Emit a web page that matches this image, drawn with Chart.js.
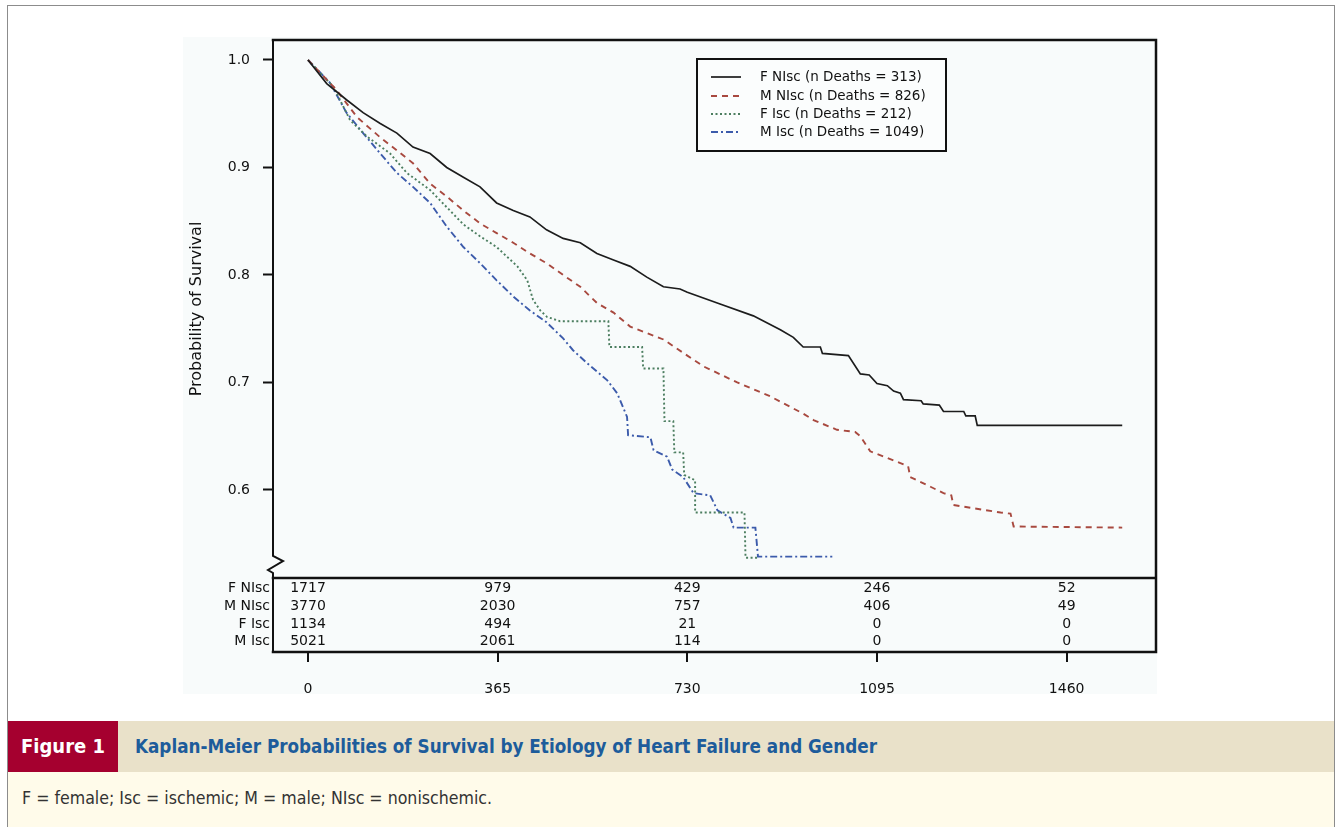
<!DOCTYPE html>
<html>
<head>
<meta charset="utf-8">
<script src="https://cdn.jsdelivr.net/npm/chart.js@4.4.1/dist/chart.umd.min.js"></script>
<style>
  body { margin: 0; background: #fff; width: 1339px; height: 827px; overflow: hidden; position: relative; }
  #frame { position: absolute; left: 7px; top: 5px; width: 1328px; height: 840px; border: 1px solid #8c8c8c; box-sizing: border-box; }
  #panel { position: absolute; left: 183px; top: 37px; width: 974px; height: 657px; background: #f8fbfb; }
  #chart { position: absolute; left: 0; top: 0; }
  #band { position: absolute; left: 8px; top: 721px; width: 1326px; height: 51px; background: #e9e1c9; }
  #fig { position: absolute; left: 0; top: 0; width: 110px; height: 51px; background: #a5002f; color: #fff;
         font: bold 20px "Liberation Sans Narrow", "DejaVu Sans Condensed", sans-serif; line-height: 51px; text-align: center; }
  #title { position: absolute; left: 127px; top: 0; color: #1d5c9b;
           font: bold 18.7px "Liberation Sans Narrow", "DejaVu Sans Condensed", sans-serif; line-height: 51px; white-space: nowrap; }
  #note { position: absolute; left: 8px; top: 772px; width: 1326px; height: 60px; background: #fffbea; }
  #note span { position: absolute; left: 14px; top: 16px; color: #333; white-space: nowrap;
               font: 17.6px "Liberation Sans Narrow", "DejaVu Sans Condensed", sans-serif; }
</style>
</head>
<body>
<div id="frame"></div>
<div id="panel"></div>
<canvas id="chart" width="1339" height="720"></canvas>
<div id="band"><div id="fig">Figure 1</div><div id="title">Kaplan-Meier Probabilities of Survival by Etiology of Heart Failure and Gender</div></div>
<div id="note"><span>F = female; Isc = ischemic; M = male; NIsc = nonischemic.</span></div>
<script>
// survival curves (days, probability)
const fNiscDays = [0,36,74,106,139,171,202,235,267,299,331,363,395,427,459,491,524,556,588,620,652,684,716,730,793,857,909,934,953,986,990,1040,1063,1080,1095,1115,1127,1140,1146,1180,1184,1215,1223,1262,1266,1284,1288,1567];
const fNiscSurv = [1.0,.978,.963,.951,.941,.932,.919,.913,.900,.891,.882,.867,.860,.854,.842,.834,.830,.820,.814,.808,.798,.789,.787,.784,.773,.762,.749,.742,.733,.733,.727,.725,.708,.707,.699,.697,.692,.690,.684,.683,.680,.679,.673,.673,.669,.669,.660,.660];

const mNiscDays = [0,55,94,139,171,202,235,267,299,331,363,395,427,459,491,524,556,588,620,652,684,730,761,826,890,953,973,1018,1053,1063,1082,1140,1155,1159,1198,1223,1238,1242,1281,1333,1352,1358,1567];
const mNiscSurv = [1.0,.972,.947,.928,.916,.904,.885,.873,.860,.848,.839,.830,.820,.811,.800,.789,.774,.765,.752,.746,.740,.725,.715,.700,.687,.671,.665,.656,.654,.650,.636,.625,.622,.612,.603,.597,.595,.586,.583,.579,.578,.566,.565];

const fIscDays = [0,49,81,113,158,190,235,267,299,331,363,403,422,433,447,460,485,578,580,643,645,684,686,703,705,722,724,745,745,840,842,866];
const fIscSurv = [1.0,.975,.944,.929,.913,.895,.879,.863,.847,.836,.826,.808,.795,.777,.767,.761,.757,.757,.733,.733,.713,.713,.664,.664,.635,.635,.614,.609,.579,.579,.537,.537];

const mIscDays = [0,42,74,106,139,171,202,235,267,299,331,363,395,427,459,491,510,537,576,595,614,616,659,665,691,701,722,742,774,788,813,819,861,866,1009];
const mIscSurv = [1.0,.979,.951,.932,.913,.895,.882,.867,.845,.826,.811,.795,.780,.767,.756,.741,.730,.718,.702,.690,.668,.651,.649,.637,.631,.619,.612,.597,.595,.581,.574,.565,.565,.538,.538];

const groupNames = ['F NIsc', 'M NIsc', 'F Isc', 'M Isc'];
const nDeaths = [313, 826, 212, 1049];

// numbers at risk
const riskTimes = [0, 365, 730, 1095, 1460];
const riskFNisc = [1717, 979, 429, 246, 52];
const riskMNisc = [3770, 2030, 757, 406, 49];
const riskFIsc = [1134, 494, 21, 0, 0];
const riskMIsc = [5021, 2061, 114, 0, 0];

const yTicks = [0.6, 0.7, 0.8, 0.9, 1.0];

const FONT = '"DejaVu Sans", sans-serif';

function pts(days, surv) {
    return days.map((d, i) => ({ x: d, y: surv[i] }));
}

const PLOT = { left: 273, right: 1156, top: 40, bottom: 578, tableBottom: 652 };

const tablePlugin = {
    id: 'kmDecor',
    afterDraw(chart) {
        const ctx = chart.ctx;
        const xs = chart.scales.x;
        ctx.save();
        ctx.strokeStyle = '#111';
        ctx.lineCap = 'square';

        // plot frame + table box
        ctx.lineWidth = 2.5;
        ctx.beginPath();
        ctx.moveTo(PLOT.left, PLOT.top);
        ctx.lineTo(PLOT.right, PLOT.top);
        ctx.lineTo(PLOT.right, PLOT.tableBottom);
        ctx.lineTo(PLOT.left, PLOT.tableBottom);
        ctx.moveTo(PLOT.left, PLOT.bottom);
        ctx.lineTo(PLOT.right, PLOT.bottom);
        ctx.stroke();

        // left axis with break
        ctx.lineWidth = 2;
        ctx.lineCap = 'butt';
        ctx.beginPath();
        ctx.moveTo(PLOT.left, PLOT.top);
        ctx.lineTo(PLOT.left, 556);
        ctx.lineTo(283, 561);
        ctx.lineTo(268, 570);
        ctx.lineTo(PLOT.left, 573);
        ctx.lineTo(PLOT.left, PLOT.tableBottom);
        ctx.stroke();

        // x tick marks under the table
        ctx.beginPath();
        riskTimes.forEach(t => {
            const px = Math.round(xs.getPixelForValue(t));
            ctx.moveTo(px, PLOT.tableBottom);
            ctx.lineTo(px, PLOT.tableBottom + 10);
        });
        ctx.stroke();

        // numbers at risk
        const rows = [riskFNisc, riskMNisc, riskFIsc, riskMIsc];
        const rowY = [588, 606, 624, 641];
        ctx.font = '14px ' + FONT;
        ctx.fillStyle = '#111';
        ctx.textBaseline = 'middle';
        rows.forEach((row, r) => {
            ctx.textAlign = 'right';
            ctx.fillText(groupNames[r], 270, rowY[r]);
            ctx.textAlign = 'center';
            row.forEach((v, c) => {
                ctx.fillText(String(v), xs.getPixelForValue(riskTimes[c]), rowY[r]);
            });
        });

        // legend
        const lx = 697, ly = 59, lw = 249, lh = 92;
        ctx.fillStyle = '#fbfdfd';
        ctx.fillRect(lx, ly, lw, lh);
        ctx.lineWidth = 2;
        ctx.strokeStyle = '#111';
        ctx.strokeRect(lx, ly, lw, lh);
        const legY = [77, 96, 114, 132];
        ctx.font = '13.5px ' + FONT;
        ctx.textAlign = 'left';
        chart.data.datasets.forEach((ds, i) => {
            ctx.strokeStyle = ds.borderColor;
            ctx.lineWidth = ds.borderWidth;
            ctx.setLineDash(ds.borderDash || []);
            ctx.beginPath();
            ctx.moveTo(711, legY[i]);
            ctx.lineTo(741, legY[i]);
            ctx.stroke();
            ctx.setLineDash([]);
            ctx.fillStyle = '#111';
            ctx.fillText(ds.label, 760, legY[i]);
        });
        ctx.restore();
    }
};

const colors = ['#1c1c1c', '#a8493f', '#4c7e60', '#3c5bab'];
const dashes = [[], [6, 5], [2, 2.5], [7, 3, 2, 3]];
const series = [pts(fNiscDays, fNiscSurv), pts(mNiscDays, mNiscSurv), pts(fIscDays, fIscSurv), pts(mIscDays, mIscSurv)];

new Chart(document.getElementById('chart'), {
    type: 'line',
    data: {
        datasets: series.map((d, i) => ({
            label: groupNames[i] + ' (n Deaths = ' + nDeaths[i] + ')',
            data: d,
            borderColor: colors[i],
            borderWidth: i === 0 ? 1.7 : 1.9,
            borderDash: dashes[i],
            pointRadius: 0,
            tension: 0,
            fill: false
        }))
    },
    options: {
        responsive: false,
        animation: false,
        layout: { padding: { left: 187, top: PLOT.top, right: 1339 - PLOT.right, bottom: 0 } },
        plugins: { legend: { display: false }, tooltip: { enabled: false } },
        scales: {
            x: {
                type: 'linear',
                min: -67.4,
                max: 1632,
                afterFit(s) { s.height = 720 - PLOT.bottom; },
                afterBuildTicks(s) { s.ticks = riskTimes.map(v => ({ value: v })); },
                grid: { display: false, drawTicks: false },
                border: { display: false },
                ticks: { padding: 103, color: '#111', font: { family: FONT, size: 14 }, maxRotation: 0, callback: v => String(v) }
            },
            y: {
                min: 0.5181,
                max: 1.0186,
                afterFit(s) { s.width = PLOT.left - 187; },
                afterBuildTicks(s) { s.ticks = yTicks.map(v => ({ value: v })); },
                grid: { drawOnChartArea: false, drawTicks: true, tickLength: 10, tickColor: '#111', tickWidth: 2 },
                border: { display: false },
                ticks: { padding: 13, color: '#111', font: { family: FONT, size: 14 }, callback: v => v.toFixed(1) },
                title: { display: true, text: 'Probability of Survival', color: '#111', padding: 0, font: { family: FONT, size: 16 } }
            }
        }
    },
    plugins: [tablePlugin]
});
</script>
</body>
</html>
